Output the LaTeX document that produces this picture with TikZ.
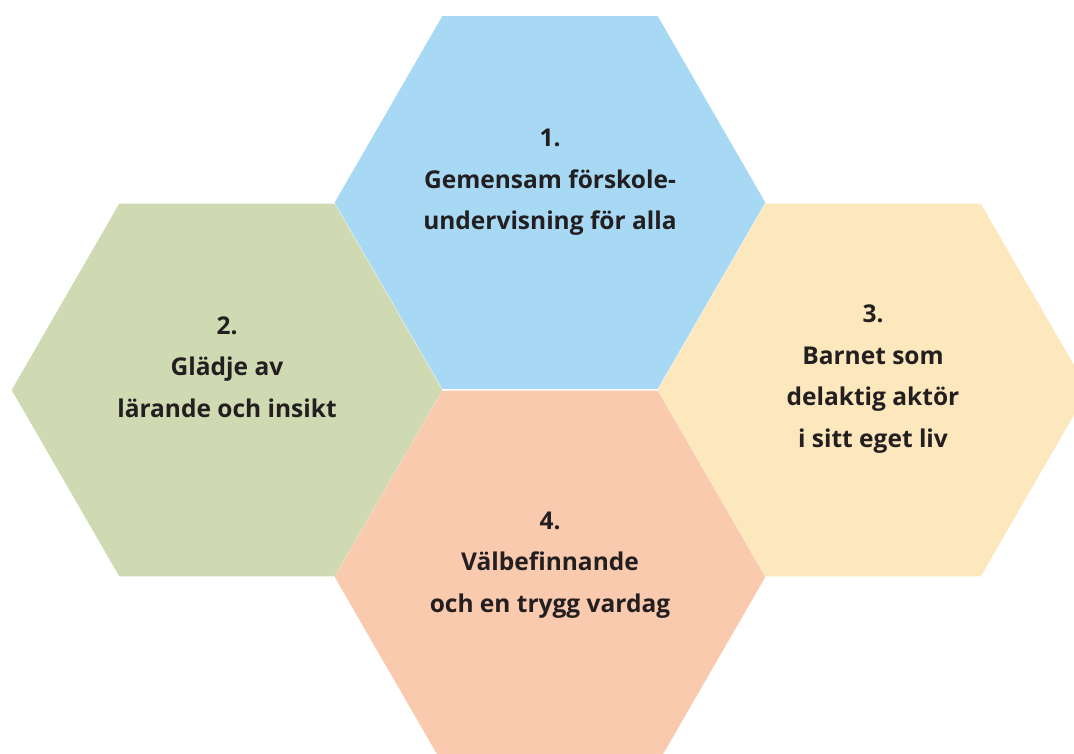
\documentclass[tikz,border=0pt]{standalone}
\usepackage{fontspec}
\setmainfont{Open Sans}
\definecolor{hexblue}{HTML}{A8D9F4}
\definecolor{hexgreen}{HTML}{D0DAB2}
\definecolor{hexyellow}{HTML}{FDE7BD}
\definecolor{hexpeach}{HTML}{FACAAF}
\definecolor{txt}{HTML}{231F20}
\tikzset{
  hexlabel/.style={align=center, anchor=base, text=txt, inner sep=0pt,
    font=\bfseries\fontsize{24.5}{41.5}\selectfont},
}
\newcommand{\hexagon}[3]{%
  \filldraw[fill=#1, draw=#1, line width=1.4pt, line join=bevel] (#2,#3) +(0:214.5) -- +(60:214.5) -- +(120:214.5) -- +(180:214.5)
    -- +(240:214.5) -- +(300:214.5) -- cycle;}
\begin{document}
\begin{tikzpicture}[x=1pt,y=-1pt]
\useasboundingbox (0,0) rectangle (1074,754);
\fill[white] (0,0) rectangle (1074,754);
\hexagon{hexblue}{550}{202.5}
\hexagon{hexgreen}{227}{390}
\hexagon{hexyellow}{873}{390}
\hexagon{hexpeach}{550}{577}
\node[hexlabel] (t1) at (550,230) {1.\\Gemensam förskole-\\undervisning för alla};
\node[hexlabel] (t2) at (227,417) {2.\\Glädje av\\lärande och insikt};
\node[hexlabel] (t3) at (873,447) {3.\\Barnet som\\delaktig aktör\\i sitt eget liv};
\node[hexlabel] (t4) at (550,612) {4.\\Välbefinnande\\och en trygg vardag};
\end{tikzpicture}
\end{document}
